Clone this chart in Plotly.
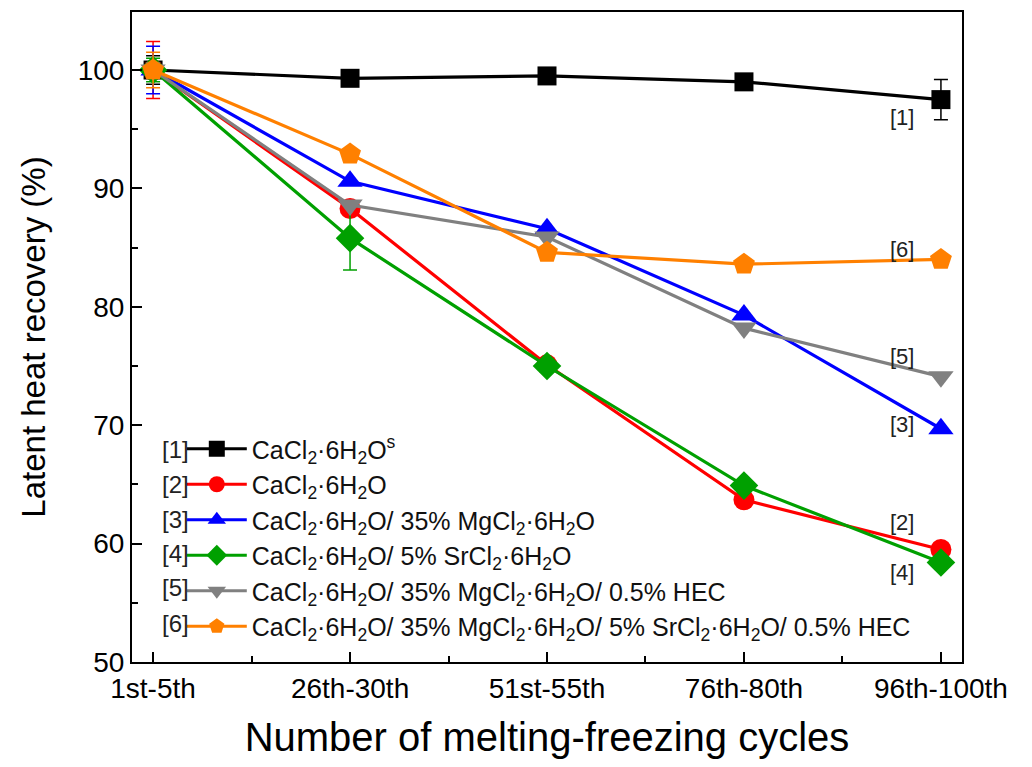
import plotly.graph_objects as go

categories = ["1st-5th", "26th-30th", "51st-55th", "76th-80th", "96th-100th"]
names = [
    "CaCl<sub>2</sub>·6H<sub>2</sub>O<sup>s</sup>",
    "CaCl<sub>2</sub>·6H<sub>2</sub>O",
    "CaCl<sub>2</sub>·6H<sub>2</sub>O/ 35% MgCl<sub>2</sub>·6H<sub>2</sub>O",
    "CaCl<sub>2</sub>·6H<sub>2</sub>O/ 5% SrCl<sub>2</sub>·6H<sub>2</sub>O",
    "CaCl<sub>2</sub>·6H<sub>2</sub>O/ 35% MgCl<sub>2</sub>·6H<sub>2</sub>O/ 0.5% HEC",
    "CaCl<sub>2</sub>·6H<sub>2</sub>O/ 35% MgCl<sub>2</sub>·6H<sub>2</sub>O/ 5% SrCl<sub>2</sub>·6H<sub>2</sub>O/ 0.5% HEC",
]
refs = ["[1]", "[2]", "[3]", "[4]", "[5]", "[6]"]
s1 = [100.0, 99.3, 99.5, 99.0, 97.5]
s2 = [100.0, 88.3, 75.1, 63.7, 59.5]
s3 = [100.0, 90.6, 86.6, 79.3, 69.7]
s4 = [100.0, 85.8, 75.0, 64.9, 58.4]
s5 = [100.0, 88.6, 85.9, 78.2, 74.1]
s6 = [100.0, 92.9, 84.6, 83.6, 84.0]
e1 = [1.2, 0.0, 0.0, 0.0, 1.7]
e2 = [2.4, 0.0, 0.0, 0.0, 0.0]
e3 = [2.0, 0.0, 0.0, 0.0, 0.0]
e4 = [1.0, 2.7, 0.0, 0.0, 0.0]
e5 = [0.6, 0.0, 0.0, 0.0, 0.0]
e6 = [1.5, 0.0, 0.0, 0.0, 0.0]

series = [s1, s2, s3, s4, s5, s6]
errors = [e1, e2, e3, e4, e5, e6]
colors = ["#000000", "#ff0000", "#0000ff", "#00a000", "#808080", "#ff8000"]
symbols = ["square", "circle", "triangle-up", "diamond", "triangle-down", "pentagon"]
sizes = [19, 21, 22, 22, 22, 23]

# right-side label positions (x index, y value)
label_x = [3.8, 3.8, 3.8, 3.8, 3.8, 3.8]
label_y = [96.0, 61.8, 70.1, 57.6, 75.8, 84.8]
# legend reference-number positions (paper coords)
legend_ref_y = [0.327, 0.273, 0.219, 0.167, 0.114, 0.060]

x = list(range(len(categories)))
fig = go.Figure()
for i in range(6):
    fig.add_trace(go.Scatter(
        x=x, y=series[i], name=names[i], mode="lines+markers",
        line=dict(color=colors[i], width=3.2),
        marker=dict(symbol=symbols[i], size=sizes[i], color=colors[i], line=dict(width=0)),
        error_y=dict(type="data", array=errors[i], color=colors[i], thickness=1.5, width=7),
    ))

for i in range(6):
    fig.add_annotation(x=label_x[i], y=label_y[i], text=refs[i], showarrow=False,
                       font=dict(size=22, color="#222222"))
    fig.add_annotation(x=0.052, y=legend_ref_y[i], xref="paper", yref="paper", text=refs[i],
                       xanchor="center", yanchor="middle",
                       showarrow=False, font=dict(size=24, color="#222222"))

fig.update_layout(
    width=1032, height=767,
    margin=dict(l=132, r=70, t=10, b=105),
    plot_bgcolor="white", paper_bgcolor="white",
    font=dict(family="Liberation Sans, Arial", color="black"),
    showlegend=True,
    legend=dict(x=0.060, y=0.02, xanchor="left", yanchor="bottom",
                bgcolor="rgba(0,0,0,0)", font=dict(size=25, color="#111111"),
                tracegroupgap=0, itemwidth=60),
)
fig.update_xaxes(
    range=[-0.107, 4.107], tickvals=x, ticktext=categories,
    ticks="inside", ticklen=10, tickwidth=1.5, tickcolor="black",
    minor=dict(tickvals=[0.5, 1.5, 2.5, 3.5], ticks="inside", ticklen=6, tickwidth=1.5, tickcolor="black"),
    showline=True, linewidth=2, linecolor="black", mirror=True, showgrid=False, zeroline=False,
    tickfont=dict(size=28), title=dict(text="Number of melting-freezing cycles", font=dict(size=40), standoff=20),
)
fig.update_yaxes(
    range=[50, 104.9], tickvals=[50, 60, 70, 80, 90, 100],
    ticks="inside", ticklen=10, tickwidth=1.5, tickcolor="black",
    minor=dict(tickvals=[55, 65, 75, 85, 95], ticks="inside", ticklen=6, tickwidth=1.5, tickcolor="black"),
    showline=True, linewidth=2, linecolor="black", mirror=True, showgrid=False, zeroline=False,
    tickfont=dict(size=28), title=dict(text="Latent heat recovery (%)", font=dict(size=33), standoff=22),
)
fig.write_html("out.html")
